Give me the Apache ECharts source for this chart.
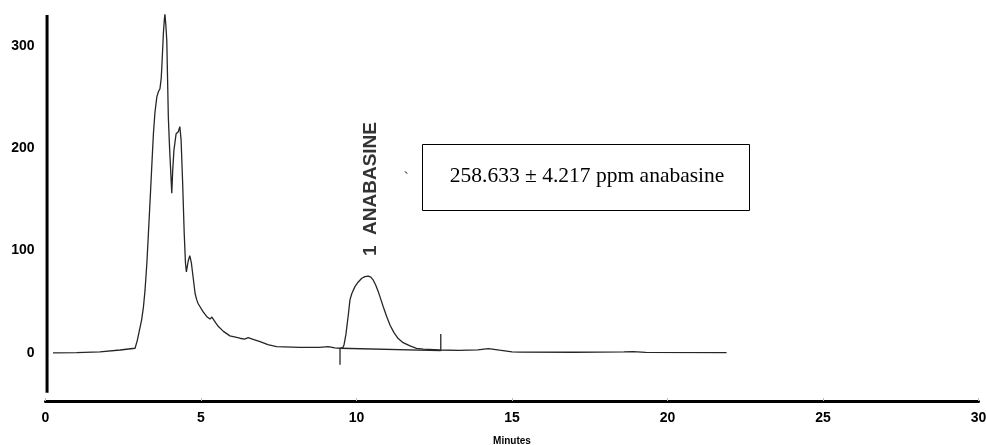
<!DOCTYPE html>
<html>
<head>
<meta charset="utf-8">
<script src="https://cdn.jsdelivr.net/npm/echarts@6/dist/echarts.min.js"></script>
<style>
html,body{margin:0;padding:0;background:#fff;}
#chart{width:986px;height:445px;}
</style>
</head>
<body>
<div id="chart"></div>
<script>
// Retention time (minutes) and detector signal
const minutes = [0.24, 1.0, 1.75, 2.4, 2.88, 2.95, 3.02, 3.09, 3.15, 3.20, 3.26, 3.31, 3.38, 3.43, 3.47, 3.52, 3.58, 3.63, 3.68, 3.72, 3.74, 3.79, 3.82, 3.84, 3.87, 3.90, 3.95, 3.99, 4.03, 4.06, 4.09, 4.13, 4.20, 4.27, 4.32, 4.36, 4.41, 4.46, 4.50, 4.53, 4.59, 4.64, 4.69, 4.73, 4.81, 4.86, 4.91, 5.07, 5.20, 5.29, 5.35, 5.40, 5.48, 5.56, 5.72, 5.93, 6.25, 6.40, 6.52, 6.65, 6.90, 7.15, 7.43, 8.18, 8.80, 9.09, 9.30, 9.47, 9.56, 9.60, 9.66, 9.69, 9.74, 9.79, 9.85, 9.95, 10.05, 10.17, 10.27, 10.38, 10.46, 10.54, 10.62, 10.70, 10.78, 10.86, 10.97, 11.08, 11.20, 11.34, 11.50, 11.72, 11.93, 12.15, 12.68, 13.30, 13.90, 14.24, 14.60, 15.00, 15.26, 17.00, 18.60, 18.89, 19.30, 21.90];
const signal  = [0, 0.3, 1, 2.8, 4.5, 12, 22, 32, 45, 61, 88, 117, 159, 190, 214, 235, 250, 255, 258, 268, 279, 312, 325, 331, 320, 305, 230, 200, 175, 156, 178, 198, 214, 216, 221, 208, 166, 117, 88, 79, 90, 95, 88, 78, 58, 52, 48, 40, 35, 33, 35, 35.5, 29, 25.7, 21, 16.6, 14.3, 13.5, 14.8, 13.5, 11, 8, 6.2, 5.4, 5.4, 6.2, 4.8, 4.5, 5, 8, 18, 25.7, 38, 51.7, 58, 64.7, 69, 72.9, 74.5, 75, 74, 71, 66, 59.8, 52.5, 45, 35.5, 27, 20, 14, 10, 6.8, 4.5, 3.6, 2.8, 2.4, 2.9, 4.2, 2.6, 1.0, 0.7, 0.6, 0.9, 1.3, 0.5, 0.3];

// Integration baseline and event marks of peak 1
const integrationBaseline = [[9.47, 4.5], [12.71, 2.2]];
const startMark = [[9.47, 4.5], [9.47, -11.5]];
const endMark = [[12.71, 2.2], [12.71, 18.5]];

// Axis ticks and axis extents
const xTicks = [0, 5, 10, 15, 20, 25, 30];
const yTicks = [0, 100, 200, 300];
const yAxisLineEnds = [[0.05, 330], [0.05, -39]];

// Annotations
const peakLabel = '1  ANABASINE';
const peakLabelAt = [10.47, 160];
const resultText = '258.633 \u00b1 4.217 ppm anabasine';
const resultBox = [[12.1, 204], [22.6, 139.5]];
const tickMarkText = '`';
const tickMarkAt = [11.6, 170];

const chart = echarts.init(document.getElementById('chart'), null, {renderer: 'canvas'});
const sans = 'Liberation Sans, Arial, sans-serif';
const axisFont = {color: '#000', fontWeight: 'bold', fontSize: 14, fontFamily: sans};
const traceStyle = {color: '#262626', width: 1.3};

chart.setOption({
  animation: false,
  backgroundColor: '#fff',
  grid: {left: 45.5, right: 7.5, top: 15, bottom: 44, containLabel: false, outerBoundsMode: 'none'},
  xAxis: {
    type: 'value', min: xTicks[0], max: xTicks[xTicks.length - 1], interval: 5,
    axisLine: {onZero: false, lineStyle: {color: '#000', width: 3}},
    axisTick: {show: true, inside: true, length: 3, lineStyle: {color: '#bbb', width: 1}},
    axisLabel: Object.assign({margin: 10}, axisFont),
    splitLine: {show: false},
    name: 'Minutes', nameLocation: 'middle', nameGap: 35,
    nameTextStyle: {color: '#000', fontWeight: 'bold', fontSize: 10, fontFamily: sans}
  },
  yAxis: {
    type: 'value', min: -47, max: 330,
    axisLine: {show: false, onZero: false},
    axisTick: {show: false},
    axisLabel: Object.assign({margin: 11, customValues: yTicks}, axisFont),
    splitLine: {show: false}
  },
  series: [
    {
      type: 'line', data: minutes.map((t, i) => [t, signal[i]]),
      showSymbol: false, symbol: 'none', lineStyle: traceStyle, z: 3
    },
    {type: 'line', data: integrationBaseline, symbol: 'none', lineStyle: traceStyle},
    {type: 'line', data: startMark, symbol: 'none', lineStyle: traceStyle},
    {type: 'line', data: endMark, symbol: 'none', lineStyle: traceStyle},
    {type: 'line', data: yAxisLineEnds, symbol: 'none', silent: true, lineStyle: {color: '#000', width: 3}},
    {
      type: 'scatter', data: [peakLabelAt], symbolSize: 0, silent: true,
      label: {show: true, formatter: peakLabel, rotate: 90, position: 'inside',
        color: '#000', fontWeight: 'bold', fontSize: 19, fontFamily: sans}
    },
    {
      type: 'scatter', data: [tickMarkAt], symbolSize: 0, silent: true,
      label: {show: true, formatter: tickMarkText, position: 'inside', color: '#000', fontSize: 16, fontFamily: 'Liberation Serif, serif'}
    }
  ]
});

const p1 = chart.convertToPixel({gridIndex: 0}, resultBox[0]);
const p2 = chart.convertToPixel({gridIndex: 0}, resultBox[1]);
chart.setOption({
  graphic: [
    {type: 'rect', shape: {x: Math.round(p1[0]) + 0.5, y: Math.round(p1[1]) + 0.5, width: Math.round(p2[0] - p1[0]), height: Math.round(p2[1] - p1[1])},
      style: {fill: '#fff', stroke: '#000', lineWidth: 1}, z: 10},
    {type: 'text', x: (p1[0] + p2[0]) / 2 + 2, y: p1[1] + 32,
      style: {text: resultText, fill: '#000', font: '21.5px "Liberation Serif", "Times New Roman", serif', textAlign: 'center', textVerticalAlign: 'middle'}, z: 11}
  ]
});
</script>
</body>
</html>
